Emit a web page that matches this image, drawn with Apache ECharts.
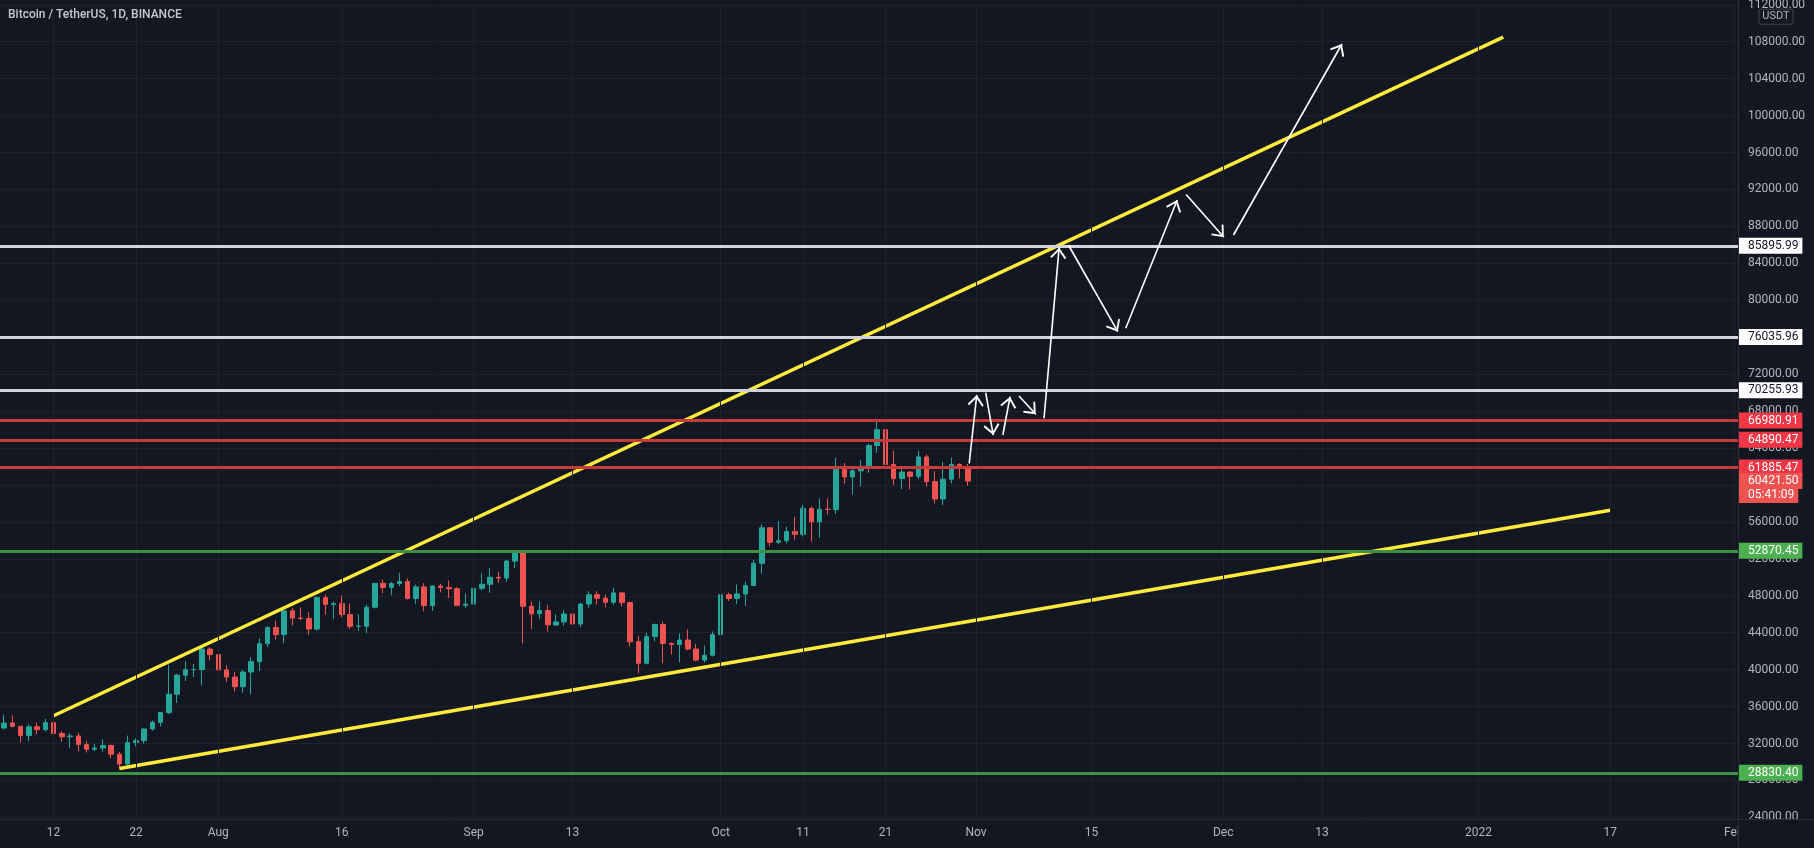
<!DOCTYPE html>
<html>
<head>
<meta charset="utf-8">
<script src="https://cdn.jsdelivr.net/npm/echarts@6/dist/echarts.min.js"></script>
<style>
html,body{margin:0;padding:0;background:#131722;}
#chart{width:1814px;height:848px;}
</style>
</head>
<body>
<div id="chart"></div>
<script>
// ---------------- DATA ----------------
const titleText = 'Bitcoin / TetherUS, 1D, BINANCE';
const axisUnit = 'USDT';

// daily categories Jul 6 2021 .. Feb 1 2022
const dates = [];
for (let t = Date.UTC(2021, 6, 6); t <= Date.UTC(2022, 1, 1); t += 86400000) {
  dates.push(new Date(t).toISOString().slice(0, 10));
}

// candles Jul 6 .. Oct 31 2021
const opens = [33690,34220,33863,32875,33815,33502,34259,33086,32730,32820,31880,31383,31520,31778,30839,29791,32110,32314,33581,34292,35350,37337,39406,39995,40008,42235,
  41626,39974,39201,38152,39747,40869,42816,44556,43798,46365,45585,45549,44399,47800,47068,47148,45973,44696,44705,46760,49339,48905,49321,49546,47706,48960,46942,49058,48897,48767,46970,
  47100,48810,49246,49999,49915,51756,52666,46863,46048,46395,44842,45173,46026,44940,47111,48122,47737,47299,48314,47260,43012,40693,43574,44895,42840,42717,43208,42236,41034,41564,
  43790,48116,47711,48199,49112,51514,55361,53805,53967,54949,54660,57471,56005,57367,57347,61672,60875,61528,62010,64262,65992,62210,60692,61393,60930,63039,60363,58482,60622,62227,61888];
const highs = [35118,35059,33920,34100,34262,34666,34678,33340,33114,33185,32250,31950,32435,31899,31063,32858,32576,33650,34500,35398,40550,39542,40900,40640,42316,42448,
  42599,40480,39780,39969,41350,43392,44700,45310,46456,46700,46743,46218,47886,48144,47372,48053,47160,46000,47033,49382,49757,49500,50500,49875,49229,49368,49150,49310,49648,48930,48246,
  49156,50450,51000,50558,51900,52780,52920,47381,47400,47031,45987,46460,46879,47250,48500,48500,48150,48843,48370,47358,43639,44000,44978,45200,42970,43937,44350,42788,42590,44141,
  48495,48336,49228,49536,51886,55750,55380,56100,55500,56561,57839,57680,58550,58530,62933,62378,61718,62695,64486,67000,66639,63733,61747,61490,63710,63293,61497,62499,62980,62359,62270];
const lows = [33532,33777,32133,32261,33004,33306,32658,32202,31550,31133,31020,31164,31109,30408,29278,29482,31708,32000,33402,33851,35205,36383,38772,39200,38313,41000,
  39422,38690,37642,37508,37332,39853,42446,43261,42848,44800,45341,43770,44217,45971,45500,45660,44376,44203,43927,46622,48273,48050,49030,47600,47138,46315,46363,48372,47762,46853,46700,
  46513,48584,48316,49400,49500,50969,42843,44412,45513,44132,44722,44742,43370,44594,46700,47045,46750,47033,46850,42500,39600,40565,43069,40675,41646,40803,42098,40889,40753,41410,
  43283,47430,47118,46891,49022,50382,53357,53617,53661,54080,54415,53879,54273,56818,56850,60150,58963,59844,61322,63481,62000,60000,59562,59510,60650,59817,58000,57820,60174,60723,59890];
const closes = [34220,33863,32875,33815,33502,34259,33086,32730,32820,31880,31383,31520,31778,30839,29791,32110,32314,33581,34292,35350,37337,39406,39995,40008,42235,41626,
  39974,39201,38152,39747,40869,42816,44556,43798,46365,45585,45549,44399,47800,47068,47148,45973,44696,44705,46760,49339,48905,49321,49546,47706,48960,46942,49058,48897,48767,46970,47100,
  48810,49246,49999,49915,51756,52663,46863,46048,46395,44842,45173,46026,44940,47111,48122,47737,47299,48314,47260,43012,40693,43574,44895,42840,42717,43208,42236,41034,41564,43790,
  48116,47711,48199,49112,51514,55361,53805,53967,54949,54660,57471,56005,57367,57347,61672,60875,61528,62010,64262,65992,62210,60692,61393,60930,63039,60363,58482,60622,62227,61888,60421.5];

// x-axis tick labels
const tickDates  = ['2021-07-12','2021-07-22','2021-08-01','2021-08-16','2021-09-01','2021-09-13','2021-10-01','2021-10-11','2021-10-21','2021-11-01','2021-11-15','2021-12-01','2021-12-13','2022-01-01','2022-01-17','2022-02-01'];
const tickLabels = ['12','22','Aug','16','Sep','13','Oct','11','21','Nov','15','Dec','13','2022','17','Feb'];

// price axis
const priceMin = 24000, priceMax = 112000, priceStep = 4000;

// horizontal levels
const levelValues = [85895.99, 76035.96, 70255.93, 66980.91, 64890.47, 61885.47, 52870.45, 28830.40];
const levelKinds  = ['white','white','white','red','red','red','green','green'];
const lastPrice = 60421.50;
const countdown = '05:41:09';

// trend lines [date, price]
const upperTrend = [['2021-07-12 00:00', 35011], ['2022-01-04 00:00', 108500]];
const lowerTrend = [['2021-07-20 00:00', 29290], ['2022-01-17 00:00', 57270]];

// projected path arrows [[from date, price], [to date, price]]
const arrows = [
  [['2021-10-31 04:00', 62345], ['2021-11-01 02:00', 69742]],
  [['2021-11-02 04:00', 69991], ['2021-11-03 02:00', 65410]],
  [['2021-11-04 06:00', 65410], ['2021-11-05 03:00', 69558]],
  [['2021-11-06 05:00', 69630], ['2021-11-08 06:00', 67650]],
  [['2021-11-09 06:00', 67220], ['2021-11-11 02:00', 85700]],
  [['2021-11-12 05:00', 85987], ['2021-11-18 05:00', 76600]],
  [['2021-11-19 04:00', 76965], ['2021-11-25 10:00', 90860]],
  [['2021-11-26 12:00', 91466], ['2021-12-01 02:00', 86831]],
  [['2021-12-02 06:00', 87069], ['2021-12-15 10:00', 107753]]
];

// ---------------- BUILD ----------------
const T = s => new Date(s.replace(' ', 'T')).getTime();
const timeMin = T('2021-07-05 12:00'), timeMax = T('2022-02-01 12:00');

const labelMap = {};
tickDates.forEach((d, i) => { labelMap[d] = tickLabels[i]; });

const candleData = opens.map((o, i) => [o, closes[i], lows[i], highs[i]]);

const kindStyle = {
  white: { line: '#d1d4dc', bg: '#ffffff', text: '#131722' },
  red:   { line: '#c93b3b', bg: '#f23645', text: '#ffffff' },
  green: { line: '#3d9142', bg: '#4caf50', text: '#ffffff' }
};
const FONT = 'Roboto, "Noto Sans", sans-serif';

function tagLabel(text, bg, color) {
  return {
    show: true, position: 'end', distance: 0, formatter: text,
    backgroundColor: bg, color: color, fontSize: 12, fontFamily: FONT,
    padding: [2, 4, 1, 10], lineHeight: 13
  };
}

function levelItems(countdownValue) {
  const items = levelValues.map((v, i) => {
    const k = kindStyle[levelKinds[i]];
    return {
      yAxis: v,
      lineStyle: { color: k.line, width: 3, type: 'solid' },
      label: tagLabel(v.toFixed(2), k.bg, k.text)
    };
  });
  items.push({
    yAxis: lastPrice,
    lineStyle: { color: 'transparent', width: 0 },
    label: tagLabel(lastPrice.toFixed(2), '#ef5350', '#ffffff')
  });
  if (countdownValue != null) {
    items.push({
      yAxis: countdownValue,
      lineStyle: { color: 'transparent', width: 0 },
      label: tagLabel(countdown, '#ef5350', '#ffffff')
    });
  }
  return items;
}

const chevron = 'path://M8,0L16,9.6L14.7,11L8,3L1.3,11L0,9.6Z';

const chart = echarts.init(document.getElementById('chart'), null, { renderer: 'canvas' });

function buildOption(countdownValue) {
  return {
    backgroundColor: '#131722',
    animation: false,
    textStyle: { fontFamily: FONT },
    title: {
      text: titleText, left: 8, top: 9, padding: 0,
      textStyle: { color: '#c4c7cf', fontSize: 12, fontWeight: 500, fontFamily: FONT }
    },
    grid: { left: 0, right: 76, top: 4.8, bottom: 30.6, containLabel: false, outerBoundsMode: 'none' },
    xAxis: [
      {
        type: 'category', data: dates, boundaryGap: true, z: 0,
        axisLine: { show: false }, axisTick: { show: false },
        axisLabel: {
          interval: (i, v) => labelMap[v] !== undefined,
          formatter: v => labelMap[v] || '',
          color: '#b2b5be', fontSize: 12, fontFamily: FONT, margin: 10
        },
        splitLine: { show: false }
      },
      { type: 'time', min: timeMin, max: timeMax, show: false }
    ],
    yAxis: {
      type: 'value', position: 'right', min: priceMin, max: priceMax, interval: priceStep,
      axisLine: { show: false }, axisTick: { show: false },
      axisLabel: { color: '#b2b5be', fontSize: 12, fontFamily: FONT, margin: 10, formatter: v => v.toFixed(2) },
      splitLine: { show: true, lineStyle: { color: '#1e222d', width: 1 } }
    },
    series: [
      {
        type: 'line', name: 'vgrid', xAxisIndex: 0, yAxisIndex: 0, data: [], z: 1, silent: true,
        markLine: {
          silent: true, symbol: 'none', label: { show: false },
          lineStyle: { color: '#1e222d', width: 1, type: 'solid' },
          data: tickDates.map(d => ({ xAxis: d }))
        }
      },
      {
        type: 'candlestick', name: 'BTCUSDT', xAxisIndex: 0, yAxisIndex: 0, z: 2,
        data: candleData, barWidth: 5,
        itemStyle: { color: '#26a69a', color0: '#ef5350', borderColor: '#26a69a', borderColor0: '#ef5350', borderWidth: 1 },
        markLine: { silent: true, symbol: 'none', data: levelItems(countdownValue) }
      },
      {
        type: 'line', name: 'upper', xAxisIndex: 1, yAxisIndex: 0, z: 3, silent: true,
        data: upperTrend.map(p => [T(p[0]), p[1]]), symbol: 'none',
        lineStyle: { color: '#ffeb3b', width: 3.5 }
      },
      {
        type: 'line', name: 'lower', xAxisIndex: 1, yAxisIndex: 0, z: 3, silent: true,
        data: lowerTrend.map(p => [T(p[0]), p[1]]), symbol: 'none',
        lineStyle: { color: '#ffeb3b', width: 3.5 }
      },
      {
        type: 'line', name: 'arrows', xAxisIndex: 1, yAxisIndex: 0, z: 4, silent: true, data: [],
        markLine: {
          silent: true,
          symbol: ['none', chevron], symbolSize: [16, 11],
          symbolOffset: [[0, 0], [0, '50%']],
          label: { show: false },
          lineStyle: { color: '#ffffff', width: 1.6, type: 'solid' },
          data: arrows.map(a => [{ coord: [T(a[0][0]), a[0][1]] }, { coord: [T(a[1][0]), a[1][1]] }])
        }
      }
    ],
    graphic: {
      elements: [
        { type: 'rect', z: 10, silent: true, shape: { x: 1739, y: 820, width: 75, height: 28 }, style: { fill: '#131722' } },
        { type: 'line', z: 11, silent: true, shape: { x1: 1738.5, y1: 0, x2: 1738.5, y2: 848 }, style: { stroke: '#2a2e39', lineWidth: 1 } },
        { type: 'line', z: 11, silent: true, shape: { x1: 0, y1: 819.5, x2: 1814, y2: 819.5 }, style: { stroke: '#2a2e39', lineWidth: 1 } },
        { type: 'text', z: 12, silent: true, x: 1776, y: 16.7,
          style: { text: axisUnit, fill: '#b2b5be', font: '11px Roboto', align: 'center', verticalAlign: 'middle',
                   backgroundColor: '#131722', borderColor: '#434651', borderWidth: 1, borderRadius: 2, padding: [2, 3, 1, 3] } }
      ]
    }
  };
}

chart.setOption(buildOption(null));
// place the countdown tag one tag-height below the last price, via the axis scale
const yLast = chart.convertToPixel({ yAxisIndex: 0 }, lastPrice);
const cdValue = chart.convertFromPixel({ yAxisIndex: 0 }, yLast + 14);
chart.setOption(buildOption(cdValue), { notMerge: true });
</script>
</body>
</html>
